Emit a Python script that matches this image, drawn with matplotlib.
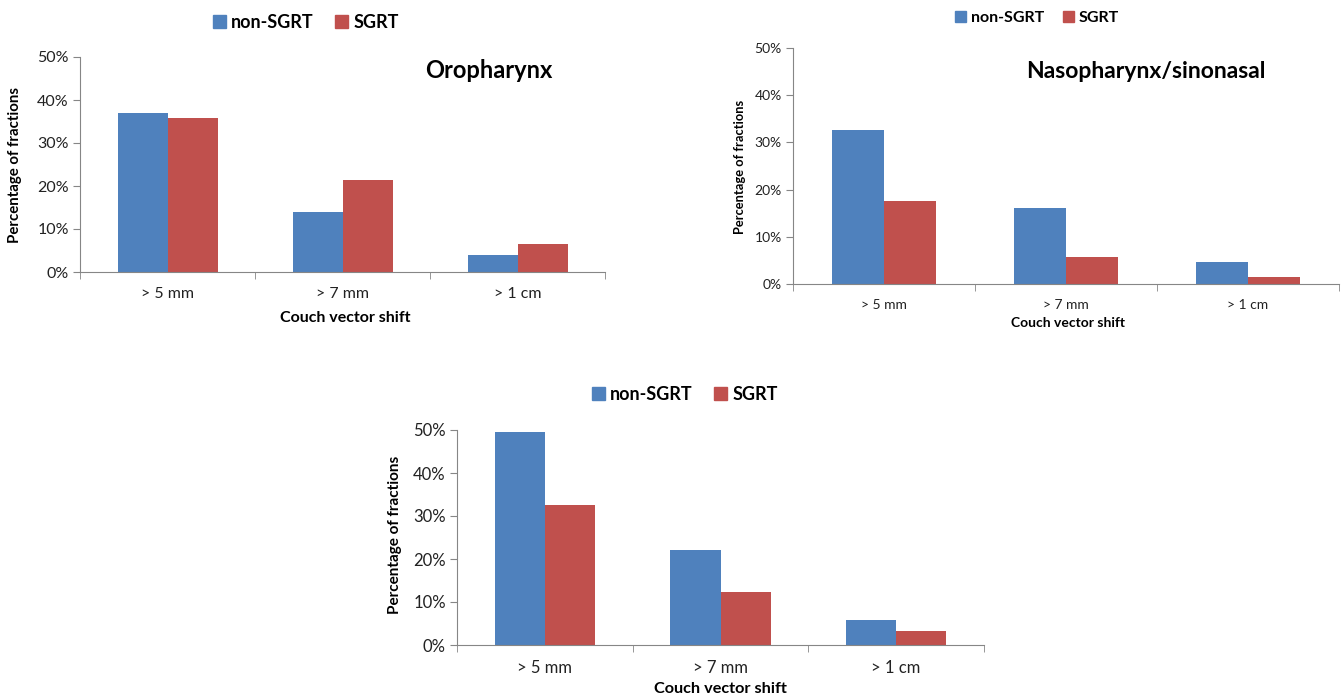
import matplotlib.pyplot as plt
import numpy as np
from matplotlib.patches import Patch

plt.rcParams['font.family'] = ['Lato', 'DejaVu Sans']

categories = ["> 5 mm", "> 7 mm", "> 1 cm"]
series = ["non-SGRT", "SGRT"]
colors = ["#4F81BD", "#C0504D"]

# percentage of fractions per couch vector shift threshold
oro_non = [37.0, 13.9, 4.0]
oro_sgrt = [35.7, 21.4, 6.5]
naso_non = [32.7, 16.0, 4.6]
naso_sgrt = [17.5, 5.8, 1.4]
all_non = [49.6, 22.1, 5.8]
all_sgrt = [32.5, 12.3, 3.3]

W, H = 1344, 696
fig = plt.figure(figsize=(W / 100, H / 100), dpi=100)


def px(x, y):
    return x / W, 1 - y / H


def panel(l, t, r, b, non, sgrt, title=None, title_xy=None, title_fs=16,
          leg_xy=None, ylab_xy=None, xlab_xy=None, tick_fs=10, leg_fs=13,
          ylab_fs=10, xlab_fs=10):
    ax = fig.add_axes([l / W, 1 - b / H, (r - l) / W, (b - t) / H])
    x = np.arange(len(categories))
    w = 1 / 3.5
    ax.bar(x - w / 2, non, w, color=colors[0], zorder=2)
    ax.bar(x + w / 2, sgrt, w, color=colors[1], zorder=2)
    ax.set_xlim(-0.5, len(categories) - 0.5)
    ax.set_ylim(0, 50)
    ax.set_yticks(range(0, 51, 10))
    ax.set_yticklabels([f"{v}%" for v in range(0, 51, 10)], fontsize=tick_fs, color="#222222")
    ax.set_xticks(x)
    ax.set_xticklabels(categories, fontsize=tick_fs, color="#222222")
    ax.set_xticks(np.arange(-0.5, len(categories)), minor=True)
    ax.tick_params(axis="x", which="major", length=0, pad=11)
    ax.tick_params(axis="x", which="minor", length=5, color="#868686")
    ax.tick_params(axis="y", length=5, color="#868686", pad=3)
    for s in ["top", "right"]:
        ax.spines[s].set_visible(False)
    for s in ["left", "bottom"]:
        ax.spines[s].set_color("#868686")
    if title:
        fig.text(*px(*title_xy), title, fontsize=title_fs, fontweight="bold",
                 ha="center", va="center")
    handles = [Patch(color=c) for c in colors]
    fig.legend(handles, series, loc="center", bbox_to_anchor=px(*leg_xy),
               ncol=2, frameon=False, handlelength=0.7, handleheight=0.7,
               handletextpad=0.3, columnspacing=1.2,
               prop={"size": leg_fs, "weight": "bold"})
    fig.text(*px(*ylab_xy), "Percentage of fractions", rotation=90,
             fontsize=ylab_fs, fontweight="bold", ha="center", va="center")
    fig.text(*px(*xlab_xy), "Couch vector shift", fontsize=xlab_fs,
             fontweight="bold", ha="center", va="center")
    return ax


panel(80, 57, 605, 272, oro_non, oro_sgrt, "Oropharynx", (489, 71), 17,
      (306, 22), (15, 165), (345, 318), tick_fs=11.5, leg_fs=13,
      ylab_fs=10.8, xlab_fs=11.5)
panel(793, 48, 1339, 284, naso_non, naso_sgrt, "Nasopharynx/sinonasal", (1146, 71), 16.5,
      (1037, 18), (740, 167), (1068, 323), tick_fs=10, leg_fs=11.5,
      ylab_fs=9.3, xlab_fs=10)
panel(457, 430, 984, 645, all_non, all_sgrt, None, None, 16,
      (685, 394), (395, 535), (720, 689), tick_fs=12, leg_fs=13,
      ylab_fs=11, xlab_fs=11.7)

fig.savefig("out.png", dpi=100)
